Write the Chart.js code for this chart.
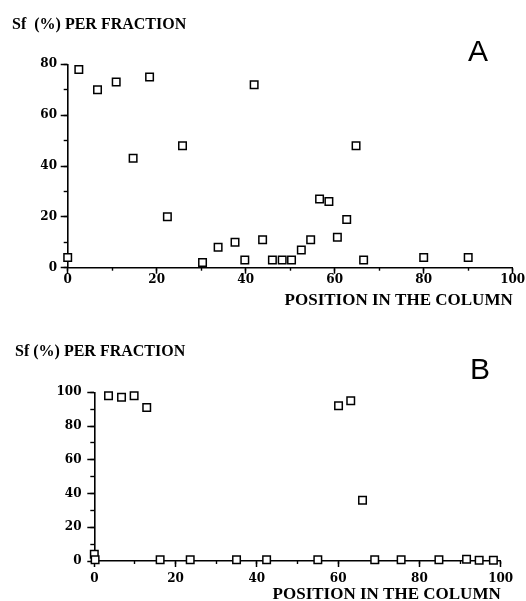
<!DOCTYPE html>
<html>
<head>
<meta charset="utf-8">
<script src="https://cdn.jsdelivr.net/npm/chart.js@4"></script>
<style>
  body { margin: 0; background: #fff; width: 526px; height: 601px; position: relative; overflow: hidden; }
  canvas { position: absolute; left: 0; }
  .ttl { position: absolute; font: bold 16px/16px "Liberation Serif", serif; white-space: pre; color: #000; }
  .lt { position: absolute; font: 30px/30px "Liberation Sans", sans-serif; color: #000; }
</style>
</head>
<body>
<canvas id="chartA" width="526" height="310" style="top:0"></canvas>
<canvas id="chartB" width="526" height="291" style="top:310px"></canvas>
<div class="ttl" style="left:12px;top:16px">Sf  (%) PER FRACTION</div>
<div class="ttl" style="left:15px;top:343px">Sf (%) PER FRACTION</div>
<div class="lt" style="left:468px;top:36px">A</div>
<div class="lt" style="left:470px;top:354px">B</div>
<script>
// panel A: position in the column vs Sf (%)
const posA = [0, 2.5, 6.7, 10.9, 14.7, 18.4, 22.4, 25.8, 30.3, 33.8, 37.6, 39.8, 41.9, 43.8,
              46, 48.2, 50.3, 52.5, 54.6, 56.6, 58.7, 60.6, 62.7, 64.8, 66.5, 80, 90];
const sfA  = [4, 78, 70, 73, 43, 75, 20, 48, 2, 8, 10, 3, 72, 11,
              3, 3, 3, 7, 11, 27, 26, 12, 19, 48, 3, 4, 4];

// panel B
const posB = [0, 0.2, 3.5, 6.7, 9.8, 12.9, 16.2, 23.6, 35, 42.4, 55, 60.1, 63.1, 66,
              69, 75.5, 84.8, 91.6, 94.7, 98.2];
const sfB  = [4, 0.7, 98, 97, 98, 91, 0.8, 0.8, 0.8, 0.8, 0.8, 92, 95, 36,
              0.8, 0.8, 0.8, 1, 0.5, 0.5];

const xTicksMax = 100;
const yMaxA = 80;
const yMaxB = 100;
const xTitle = 'POSITION IN THE COLUMN';

const tickFont = { family: 'DejaVu Serif', weight: 'bold', size: 12, lineHeight: 1 };

function minorAxis(axis, pos, max, len) {
  return {
    axis: axis, type: 'linear', position: pos, min: 0, max: max, weight: 0,
    ticks: { stepSize: 10, autoSkip: false, padding: 0, callback: () => '' },
    grid: { drawOnChartArea: false, tickLength: len, tickWidth: 1.4, tickColor: '#000' },
    border: { display: false },
    afterFit: s => { if (axis === 'x') s.height = 0; else s.width = 0; }
  };
}

function makeChart(id, xs, ys, yMax, o) {
  const pts = xs.map((x, i) => ({ x: x, y: ys[i] }));
  return new Chart(document.getElementById(id), {
    type: 'scatter',
    data: {
      datasets: [{
        data: pts,
        pointStyle: 'rect',
        pointRadius: 5.3,
        pointHoverRadius: 5.3,
        borderColor: '#000',
        backgroundColor: '#fff',
        borderWidth: 1.5,
        clip: false
      }]
    },
    options: {
      responsive: false,
      animation: false,
      events: [],
      layout: { padding: { top: o.top, right: o.right, left: 0, bottom: 0 } },
      plugins: { legend: { display: false }, tooltip: { enabled: false } },
      scales: {
        x: {
          type: 'linear', position: 'bottom', weight: 1, min: 0, max: xTicksMax,
          ticks: { stepSize: 20, autoSkip: false, maxRotation: 0, font: tickFont, color: '#000', padding: o.xPad },
          grid: { drawOnChartArea: false, tickLength: 6, tickWidth: 1.5, tickColor: '#000' },
          border: { color: '#000', width: 1.6 },
          title: {
            display: true, text: xTitle, align: 'end', color: '#000',
            font: { family: 'Liberation Serif', weight: 'bold', size: 17, lineHeight: 0.7 },
            padding: { top: 0, bottom: o.titlePad }
          },
          afterFit: s => { s.height = o.xH; }
        },
        xm: minorAxis('x', 'bottom', xTicksMax, 3),
        y: {
          type: 'linear', position: 'left', weight: 1, min: 0, max: yMax,
          ticks: { stepSize: 20, autoSkip: false, font: tickFont, color: '#000', padding: o.yPad },
          grid: { drawOnChartArea: false, tickLength: 7, tickWidth: 1.5, tickColor: '#000' },
          border: { color: '#000', width: 1.6 },
          afterFit: s => { s.width = o.yW; }
        },
        ym: minorAxis('y', 'left', yMax, 4)
      }
    }
  });
}

makeChart('chartA', posA, sfA, yMaxA, { top: 64.3, right: 13.3, xH: 42.3, yW: 67.7, xPad: 0, yPad: 3.7, titlePad: 3 });
makeChart('chartB', posB, sfB, yMaxB, { top: 82.3, right: 25.3, xH: 40, yW: 94.3, xPad: 6, yPad: 5.8, titlePad: 0 });
</script>
</body>
</html>
